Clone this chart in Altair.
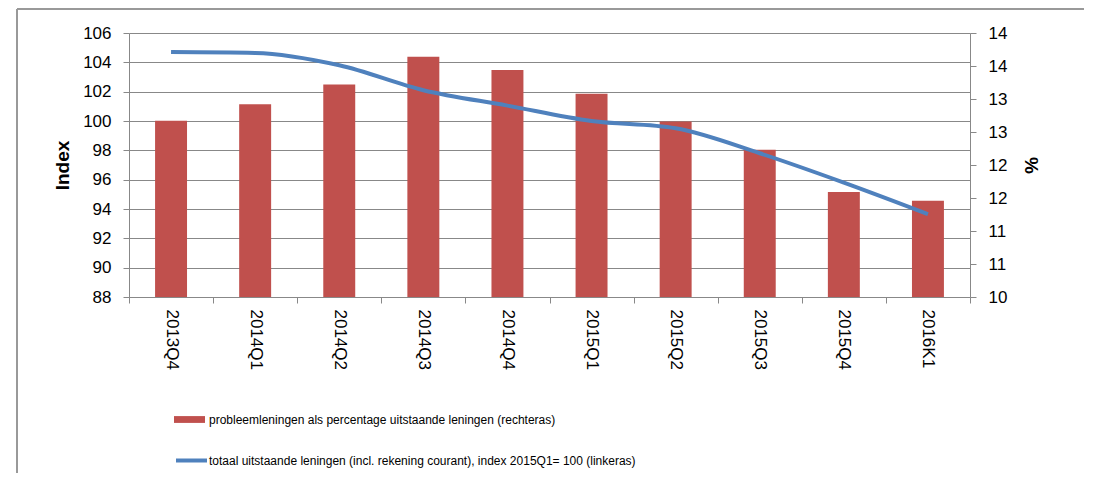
import altair as alt
import pandas as pd

quarters = ["2013Q4", "2014Q1", "2014Q2", "2014Q3", "2014Q4",
            "2015Q1", "2015Q2", "2015Q3", "2015Q4", "2016K1"]
probleem_pct = [12.67, 12.92, 13.22, 13.64, 13.44, 13.08, 12.66, 12.23, 11.59, 11.46]
totaal_index = [104.7, 104.64, 103.8, 102.1, 101.05, 100.0, 99.5, 97.8, 95.8, 93.65]
left_ticks = [88, 90, 92, 94, 96, 98, 100, 102, 104, 106]
right_ticks = [10, 10.5, 11, 11.5, 12, 12.5, 13, 13.5, 14]
bar_label = "probleemleningen als percentage uitstaande leningen (rechteras)"
line_label = "totaal uitstaande leningen (incl. rekening courant), index 2015Q1= 100 (linkeras)"

df = pd.DataFrame({
    "kwartaal": quarters,
    "pct": probleem_pct,
    "index": totaal_index,
    "bar_s": [bar_label] * len(quarters),
    "line_s": [line_label] * len(quarters),
})

GRAY = "#888888"
FONT = "Liberation Sans"

x_enc = alt.X(
    "kwartaal:N", sort=quarters,
    scale=alt.Scale(paddingInner=0, paddingOuter=0),
    axis=alt.Axis(title=None, labelAngle=90, tickBand="extent", labelFont=FONT,
                  labelFontSize=17, labelColor="#000000", domainColor=GRAY,
                  tickColor=GRAY, tickSize=6, labelPadding=6),
)

bars = alt.Chart(df).mark_bar(width={"band": 0.38}).encode(
    x=x_enc,
    y=alt.Y("pct:Q", scale=alt.Scale(domain=[10, 14], zero=False, nice=False),
            axis=alt.Axis(title="%", orient="right", values=right_ticks, format=".0f",
                          grid=False, labelFont=FONT, labelFontSize=17,
                          labelColor="#000000", domainColor=GRAY, tickColor=GRAY,
                          tickSize=6, labelPadding=12, titleFont=FONT,
                          titleFontSize=19, titleFontWeight="bold",
                          titleColor="#000000", titlePadding=14)),
    y2=alt.datum(10),
    fill=alt.Fill("bar_s:N", scale=alt.Scale(domain=[bar_label], range=["#C0504D"]),
                  legend=alt.Legend(title=None, orient="none", legendX=45, legendY=371,
                                    symbolType="M-1,-0.22H1V0.22H-1Z", symbolSize=961,
                                    symbolStrokeWidth=0, labelFont=FONT,
                                    labelFontSize=12, labelColor="#000000",
                                    labelLimit=900, labelOffset=4, padding=0)),
)

line = alt.Chart(df).mark_line(strokeWidth=4, interpolate="monotone").encode(
    x=x_enc,
    y=alt.Y("index:Q", scale=alt.Scale(domain=[88, 106], zero=False, nice=False),
            axis=alt.Axis(title="Index", orient="left", values=left_ticks, grid=True,
                          gridColor=GRAY, labelFont=FONT, labelFontSize=17,
                          labelColor="#000000", domainColor=GRAY, tickColor=GRAY,
                          tickSize=6, labelPadding=12, titleFont=FONT,
                          titleFontSize=19, titleFontWeight="bold",
                          titleColor="#000000", titlePadding=10)),
    stroke=alt.Stroke("line_s:N", scale=alt.Scale(domain=[line_label], range=["#4F81BD"]),
                      legend=alt.Legend(title=None, orient="none", legendX=45, legendY=410,
                                        symbolType="stroke", symbolSize=961,
                                        symbolStrokeWidth=4, labelFont=FONT,
                                        labelFontSize=12, labelColor="#000000",
                                        labelLimit=900, labelOffset=0, padding=0)),
)

frame_df = pd.DataFrame({"k": [0]})
top_border = alt.Chart(frame_df).mark_rule(color="#999999", strokeWidth=2).encode(
    x=alt.value(-112), x2=alt.value(955), y=alt.value(-24))
left_border = alt.Chart(frame_df).mark_rule(color="#999999", strokeWidth=2).encode(
    x=alt.value(-112), y=alt.value(-24), y2=alt.value(440))

chart = alt.layer(bars, line, top_border, left_border).resolve_scale(y="independent").properties(
    width=841, height=264,
    autosize=alt.AutoSizeParams(type="none"),
    padding={"left": 121, "top": 25, "right": 116, "bottom": 184},
).configure_view(strokeWidth=0)

chart.save("out.html", embed_options={"renderer": "svg", "actions": False})
